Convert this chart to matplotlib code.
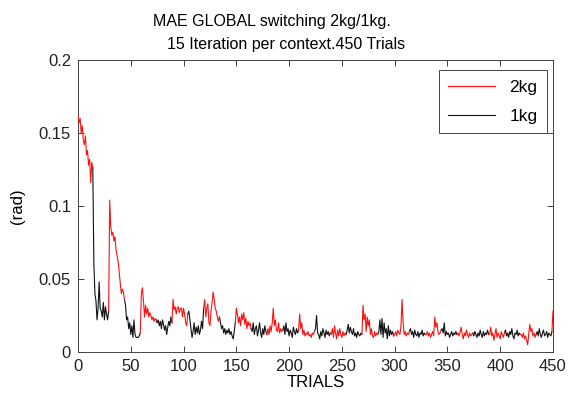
import numpy as np
import matplotlib
matplotlib.use("Agg")
import matplotlib.pyplot as plt

plt.rcParams['font.family'] = ['Liberation Sans', 'DejaVu Sans']

# MAE per trial, blocks of 15 trials, contexts alternate 2kg / 1kg
blocks = [
    [0.162, 0.157, 0.160, 0.150, 0.155, 0.145, 0.142, 0.148, 0.135, 0.138, 0.128, 0.132, 0.116, 0.130, 0.126],
    [0.061, 0.040, 0.035, 0.022, 0.030, 0.048, 0.030, 0.028, 0.024, 0.034, 0.022, 0.031, 0.026, 0.022, 0.028],
    [0.104, 0.086, 0.080, 0.082, 0.076, 0.079, 0.070, 0.066, 0.062, 0.055, 0.047, 0.040, 0.043, 0.041, 0.036],
    [0.032, 0.022, 0.024, 0.016, 0.020, 0.012, 0.018, 0.010, 0.022, 0.012, 0.010, 0.010, 0.010, 0.011, 0.013],
    [0.040, 0.044, 0.035, 0.024, 0.032, 0.026, 0.030, 0.024, 0.027, 0.025, 0.022, 0.024, 0.021, 0.023, 0.022],
    [0.020, 0.022, 0.018, 0.021, 0.016, 0.022, 0.019, 0.015, 0.018, 0.012, 0.017, 0.021, 0.018, 0.024, 0.020],
    [0.036, 0.029, 0.031, 0.026, 0.030, 0.031, 0.027, 0.030, 0.030, 0.024, 0.030, 0.026, 0.020, 0.018, 0.026],
    [0.028, 0.022, 0.016, 0.010, 0.014, 0.020, 0.012, 0.017, 0.013, 0.018, 0.012, 0.015, 0.021, 0.016, 0.030],
    [0.036, 0.024, 0.030, 0.033, 0.020, 0.018, 0.028, 0.034, 0.041, 0.036, 0.030, 0.028, 0.024, 0.021, 0.024],
    [0.020, 0.016, 0.018, 0.013, 0.016, 0.012, 0.015, 0.013, 0.016, 0.012, 0.014, 0.011, 0.009, 0.014, 0.020],
    [0.030, 0.026, 0.020, 0.024, 0.018, 0.026, 0.022, 0.027, 0.019, 0.023, 0.016, 0.021, 0.018, 0.020, 0.016],
    [0.014, 0.020, 0.012, 0.016, 0.018, 0.011, 0.015, 0.020, 0.013, 0.010, 0.016, 0.012, 0.018, 0.014, 0.012],
    [0.016, 0.012, 0.018, 0.014, 0.020, 0.030, 0.018, 0.022, 0.015, 0.014, 0.020, 0.013, 0.016, 0.014, 0.015],
    [0.018, 0.012, 0.020, 0.014, 0.016, 0.011, 0.015, 0.013, 0.010, 0.017, 0.014, 0.012, 0.016, 0.013, 0.015],
    [0.026, 0.016, 0.020, 0.012, 0.015, 0.011, 0.013, 0.012, 0.014, 0.011, 0.012, 0.010, 0.013, 0.012, 0.014],
    [0.016, 0.025, 0.013, 0.012, 0.009, 0.014, 0.011, 0.016, 0.013, 0.010, 0.015, 0.012, 0.014, 0.011, 0.013],
    [0.012, 0.016, 0.010, 0.018, 0.013, 0.009, 0.015, 0.011, 0.016, 0.012, 0.010, 0.014, 0.011, 0.013, 0.012],
    [0.015, 0.019, 0.013, 0.017, 0.014, 0.012, 0.016, 0.011, 0.013, 0.010, 0.014, 0.012, 0.011, 0.013, 0.012],
    [0.032, 0.022, 0.026, 0.014, 0.024, 0.018, 0.022, 0.012, 0.016, 0.011, 0.010, 0.014, 0.011, 0.013, 0.012],
    [0.014, 0.022, 0.012, 0.023, 0.010, 0.020, 0.013, 0.016, 0.009, 0.018, 0.011, 0.015, 0.012, 0.014, 0.011],
    [0.012, 0.014, 0.011, 0.015, 0.013, 0.012, 0.018, 0.036, 0.020, 0.012, 0.014, 0.011, 0.013, 0.012, 0.014],
    [0.016, 0.012, 0.014, 0.010, 0.015, 0.012, 0.011, 0.014, 0.010, 0.013, 0.012, 0.015, 0.011, 0.013, 0.012],
    [0.012, 0.014, 0.011, 0.013, 0.010, 0.012, 0.014, 0.011, 0.024, 0.017, 0.020, 0.014, 0.012, 0.013, 0.015],
    [0.016, 0.013, 0.020, 0.011, 0.014, 0.012, 0.013, 0.010, 0.012, 0.014, 0.011, 0.013, 0.012, 0.014, 0.012],
    [0.013, 0.011, 0.014, 0.017, 0.012, 0.009, 0.013, 0.011, 0.015, 0.012, 0.010, 0.013, 0.011, 0.012, 0.013],
    [0.011, 0.014, 0.012, 0.010, 0.013, 0.011, 0.015, 0.012, 0.010, 0.014, 0.011, 0.013, 0.012, 0.015, 0.012],
    [0.012, 0.017, 0.011, 0.013, 0.008, 0.012, 0.016, 0.010, 0.013, 0.011, 0.009, 0.014, 0.012, 0.010, 0.013],
    [0.015, 0.011, 0.013, 0.010, 0.014, 0.012, 0.016, 0.011, 0.009, 0.013, 0.012, 0.015, 0.011, 0.013, 0.012],
    [0.012, 0.010, 0.013, 0.009, 0.011, 0.008, 0.005, 0.012, 0.019, 0.014, 0.016, 0.011, 0.013, 0.010, 0.012],
    [0.014, 0.011, 0.016, 0.012, 0.010, 0.013, 0.015, 0.011, 0.012, 0.014, 0.010, 0.013, 0.012, 0.011, 0.014],
    [0.028],
]
block_len = 15

mae = np.concatenate([np.array(b) for b in blocks])
trials = np.arange(len(mae))
ctx = (trials // block_len) % 2  # 0 -> 2kg, 1 -> 1kg

def context_mask(c):
    m = ctx == c
    # also keep the last point of the previous block so the switch is joined
    starts = np.where((ctx[1:] == c) & (ctx[:-1] != c))[0]
    m[starts] = True
    return m

red = np.where(context_mask(0), mae, np.nan)
black = np.where(context_mask(1), mae, np.nan)

fig = plt.figure(figsize=(5.75, 3.96), dpi=100)
ax = fig.add_axes([0.1357, 0.1111, 0.826, 0.7374])

l1, = ax.plot(trials, black, color='#111111', lw=0.8, zorder=2)
l2, = ax.plot(trials, red, color='#ff1010', lw=0.8, zorder=3)

ax.set_xlim(0, 450)
ax.set_ylim(0, 0.2)
ax.set_xticks(np.arange(0, 451, 50))
ax.set_yticks([0, 0.05, 0.1, 0.15, 0.2])
ax.set_yticklabels(['0', '0.05', '0.1', '0.15', '0.2'])
ax.tick_params(direction='in', top=True, right=True, length=4, width=0.6,
               labelsize=12, colors='#222222', pad=5)
for s in ax.spines.values():
    s.set_linewidth(0.7)
    s.set_color('#444444')

ax.set_xlabel('TRIALS', fontsize=12, labelpad=1)
ax.set_ylabel('(rad)', fontsize=12, labelpad=10)

fig.text(0.473, 0.945, 'MAE GLOBAL switching 2kg/1kg.', ha='center', va='center', fontsize=11.5)
fig.text(0.497, 0.888, '15 Iteration per context.450 Trials', ha='center', va='center', fontsize=11.5)

leg = ax.legend([l2, l1], ['2kg', '1kg'], loc='upper right', fontsize=12.5,
                bbox_to_anchor=(0.987, 0.966), borderaxespad=0,
                fancybox=False, framealpha=1, edgecolor='#444444',
                handlelength=2.7, labelspacing=0.8, borderpad=0.55)
leg.get_frame().set_linewidth(0.7)

fig.savefig('out.png', dpi=100)
